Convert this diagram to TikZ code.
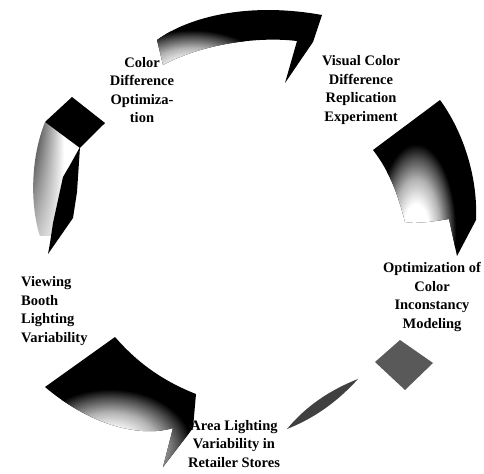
\documentclass[tikz,border=0pt]{standalone}
\usepackage{fontspec}
\setmainfont{Liberation Serif}
\usetikzlibrary{shadings}
\pgfdeclareradialshading{spotshade}{\pgfpoint{0bp}{0bp}}{color(0bp)=(white); color(8bp)=(white); color(15bp)=(black!30); color(21bp)=(black!70); color(25bp)=(black); color(50bp)=(black)}
\tikzset{
  lbl/.style={font=\bfseries\fontsize{14.5bp}{18.5bp}\selectfont, align=center, inner sep=0pt},
  blk/.style={fill=black, draw=none}
}
\begin{document}
\begin{tikzpicture}[x=1bp,y=-1bp]
\useasboundingbox (0,0) rectangle (484,474);

% top arrow
\begin{scope}
\clip (157,40) .. controls (190,16) and (250,2) .. (322,15) -- (313,42) -- (285,83) -- (297,41)
      .. controls (255,36) and (200,45) .. (163,65) -- cycle;
\fill[black] (150,0) rectangle (330,90);
\shade[shading=spotshade] (192,74) ellipse (78 and 44);
\end{scope}

% right arrow
\begin{scope}
\clip (373,150) -- (440,100) .. controls (462,130) and (478,175) .. (476,220) -- (457,256) -- (449,219)
      .. controls (430,222) and (415,224) .. (405,222) .. controls (398,195) and (390,172) .. (373,150) -- cycle;
\fill[black] (360,90) rectangle (484,260);
\shade[shading=spotshade] (416,232) ellipse (40 and 88);
\end{scope}

% left arrow
\begin{scope}
\clip (45,122) -- (80,148) -- (60,200) -- (48,254) .. controls (32,230) and (26,170) .. (45,122) -- cycle;
\shade[upper left=black, lower left=black!30, upper right=white, lower right=white] (28,115) rectangle (64,235);
\end{scope}
\fill[blk] (45,122) -- (72,97) -- (105,123) -- (80,148) -- cycle;
\fill[blk] (80,147) -- (77,192) -- (73,218) -- (48,254) -- (50,243) -- (53,223) -- (58,200) -- (63,177) -- (70,165) -- cycle;

% bottom-left arrow
\begin{scope}
\clip (45,387) -- (115,337) .. controls (135,360) and (160,380) .. (196,394) -- (193,428) -- (163,467) -- (173,428)
      .. controls (140,438) and (90,425) .. (45,387) -- cycle;
\fill[black] (40,330) rectangle (200,470);
\shade[shading=spotshade] (110,447) ellipse (82 and 58);
\end{scope}

% bottom-right arrow remnants
\fill[black!65] (375,362) -- (400,340) -- (433,363) -- (405,390) -- cycle;
\fill[black!75] (287,429) .. controls (306,406) and (330,390) .. (358,379)
      .. controls (338,401) and (315,418) .. (287,429) -- cycle;

% labels
\node[lbl] (cdo) at (142,90) {Color\\Difference\\Optimiza-\\tion};
\node[lbl] (vcd) at (361,90) {Visual Color\\Difference\\Replication\\Experiment};
\node[lbl] (oci) at (432,297) {Optimization of\\Color\\Inconstancy\\Modeling};
\node[lbl] (alv) at (234,444) {Area Lighting\\Variability in\\Retailer Stores};
\node[lbl, align=left, anchor=west] (vbl) at (21,311) {Viewing\\Booth\\Lighting\\Variability};
\end{tikzpicture}
\end{document}
